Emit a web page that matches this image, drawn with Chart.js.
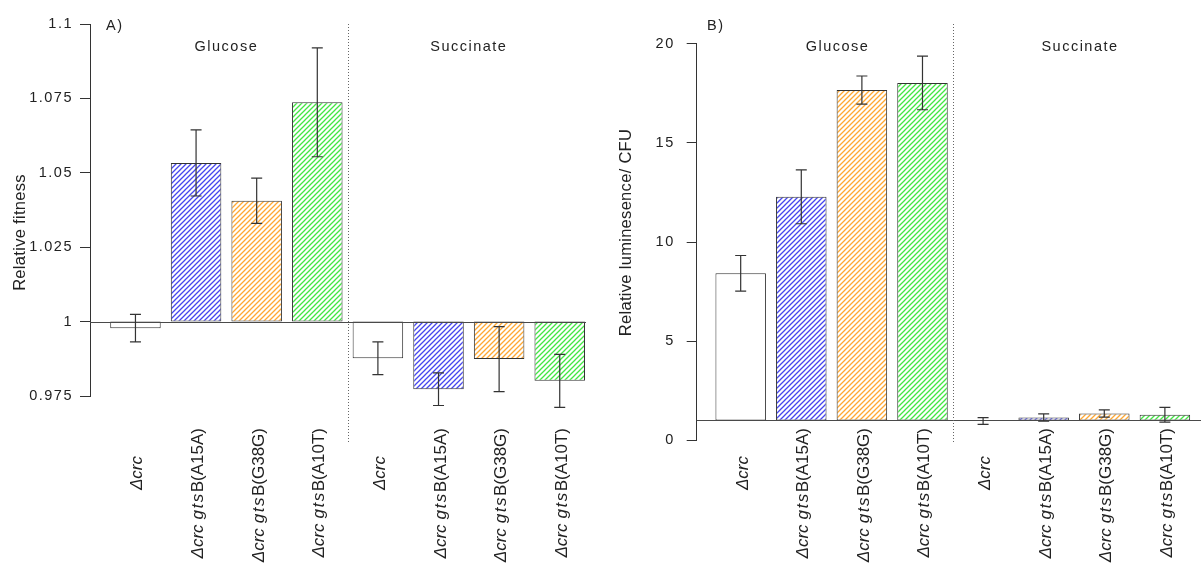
<!DOCTYPE html>
<html>
<head>
<meta charset="utf-8">
<title>Relative fitness and luminescence</title>
<script src="https://cdn.jsdelivr.net/npm/chart.js@4.4.1/dist/chart.umd.min.js"></script>
<style>
  html, body { margin: 0; padding: 0; background: #fff; }
  #wrap { position: relative; width: 1201px; height: 563px; overflow: hidden; }
  #wrap canvas { position: absolute; top: 0; }
</style>
</head>
<body>
<div id="wrap">
  <canvas id="fitness" width="600" height="563" style="left:0px"></canvas>
  <canvas id="lum" width="601" height="563" style="left:600px"></canvas>
</div>
<script>
// ---- data -------------------------------------------------------------
const media = ['Glucose', 'Succinate'];
const strains = ['Δcrc', 'Δcrc gtsB(A15A)', 'Δcrc gtsB(G38G)', 'Δcrc gtsB(A10T)'];

const fitnessGlucose      = [0.9978, 1.0533, 1.0406, 1.0737];
const fitnessGlucoseErr   = [0.0046, 0.0111, 0.0076, 0.0183];
const fitnessSuccinate    = [0.9877, 0.9773, 0.9874, 0.9801];
const fitnessSuccinateErr = [0.0055, 0.0055, 0.0109, 0.0089];
const fitnessTicks        = [0.975, 1, 1.025, 1.05, 1.075, 1.1];

const lumGlucose      = [8.42, 12.28, 17.66, 18.02];
const lumGlucoseErr   = [0.90, 1.36, 0.71, 1.35];
const lumSuccinate    = [0.97, 1.15, 1.35, 1.29];
const lumSuccinateErr = [0.17, 0.18, 0.18, 0.37];
const lumTicks        = [0, 5, 10, 15, 20];

// ---- styling ----------------------------------------------------------
const strainInk = [null, '#4646ee', '#ffa833', '#43e643']; // null = plain white bar
const FONT = 'Liberation Sans';
const INK = '#222';

// barplot-style midpoints: bar width 1, gap 0.2
const slot = k => 0.7 + 1.2 * k;

function hatch(ctx, color) {
  if (!color) return '#ffffff';
  const p = 5;
  const c = document.createElement('canvas');
  c.width = c.height = p;
  const g = c.getContext('2d');
  g.fillStyle = '#fff';
  g.fillRect(0, 0, p, p);
  g.strokeStyle = color;
  g.lineWidth = 1.3;
  g.beginPath();
  g.moveTo(-1, p + 1); g.lineTo(p + 1, -1);
  g.moveTo(-1, 1);     g.lineTo(1, -1);
  g.moveTo(p - 1, p + 1); g.lineTo(p + 1, p - 1);
  g.stroke();
  return ctx.createPattern(c, 'repeat');
}

// strain name -> pieces with gene names in italics
function labelPieces(name) {
  const m = name.match(/^(Δcrc)(?: (gts)(B\(.+\)))?$/);
  const out = [{ text: m[1], italic: true, gapAfter: 5 }];
  if (m[2]) {
    out.push({ text: m[2], italic: true, spacing: 1.5, gapAfter: 0 });
    out.push({ text: m[3], italic: false, gapAfter: 0 });
  }
  return out;
}

function drawStrainLabel(ctx, name, x, yEnd) {
  const pieces = labelPieces(name);
  ctx.save();
  ctx.fillStyle = INK;
  ctx.textBaseline = 'alphabetic';
  ctx.textAlign = 'left';
  let total = 0;
  for (const p of pieces) {
    ctx.font = (p.italic ? 'italic ' : '') + '17px "' + FONT + '"';
    ctx.letterSpacing = (p.spacing || 0) + 'px';
    p.w = ctx.measureText(p.text).width;
    total += p.w + p.gapAfter;
  }
  ctx.translate(x, yEnd);
  ctx.rotate(-Math.PI / 2);
  let pos = -total;
  for (const p of pieces) {
    ctx.font = (p.italic ? 'italic ' : '') + '17px "' + FONT + '"';
    ctx.letterSpacing = (p.spacing || 0) + 'px';
    ctx.fillText(p.text, pos, 0);
    pos += p.w + p.gapAfter;
  }
  ctx.restore();
}

const panelDecor = {
  id: 'panelDecor',
  beforeDraw(chart) {
    chart.ctx.letterSpacing = '1.5px';
  },
  afterDatasetsDraw(chart) {
    const cfg = chart.options.plugins.panelDecor;
    const ctx = chart.ctx;
    const xs = chart.scales.x, ys = chart.scales.y;
    const area = chart.chartArea;
    ctx.save();
    // reference line at the baseline
    const yb = Math.round(ys.getPixelForValue(cfg.base)) + 0.5;
    ctx.strokeStyle = '#4a4a4a';
    ctx.lineWidth = 1;
    ctx.beginPath();
    ctx.moveTo(area.left, yb);
    ctx.lineTo(area.right, yb);
    ctx.stroke();
    // error bars
    ctx.strokeStyle = '#333';
    ctx.lineWidth = 1.2;
    cfg.values.forEach((v, k) => {
      const e = cfg.errors[k];
      const x = xs.getPixelForValue(slot(k));
      const y1 = ys.getPixelForValue(v + e), y2 = ys.getPixelForValue(v - e);
      ctx.beginPath();
      ctx.moveTo(x, y1); ctx.lineTo(x, y2);
      ctx.moveTo(x - 5.5, y1); ctx.lineTo(x + 5.5, y1);
      ctx.moveTo(x - 5.5, y2); ctx.lineTo(x + 5.5, y2);
      ctx.stroke();
    });
    ctx.restore();
  },
  afterDraw(chart) {
    const cfg = chart.options.plugins.panelDecor;
    const ctx = chart.ctx;
    const xs = chart.scales.x;
    const n = strains.length;
    ctx.save();
    // dotted divider between media
    const xd = Math.round(xs.getPixelForValue((slot(n - 1) + slot(n)) / 2)) + 0.5;
    ctx.strokeStyle = '#666';
    ctx.lineWidth = 1;
    ctx.setLineDash([1, 2]);
    ctx.beginPath();
    ctx.moveTo(xd, cfg.dividerTop);
    ctx.lineTo(xd, cfg.dividerBottom);
    ctx.stroke();
    ctx.setLineDash([]);

    // panel letter and medium headings
    ctx.fillStyle = INK;
    ctx.font = '14.5px "' + FONT + '"';
    ctx.letterSpacing = '1.5px';
    ctx.textBaseline = 'alphabetic';
    ctx.textAlign = 'left';
    ctx.fillText(cfg.letter, cfg.letterX, 30);
    ctx.textAlign = 'center';
    media.forEach((m, g) => {
      const mid = (slot(g * n) + slot(g * n + n - 1)) / 2;
      ctx.fillText(m, xs.getPixelForValue(mid) + cfg.headingShift, 51);
    });

    // y-axis title
    ctx.save();
    ctx.font = '16.5px "' + FONT + '"';
    ctx.letterSpacing = '0.3px';
    ctx.translate(cfg.titleX, 232.5);
    ctx.rotate(-Math.PI / 2);
    ctx.textAlign = 'center';
    ctx.fillText(cfg.title, 0, 0);
    ctx.restore();

    // strain labels under each bar
    for (let g = 0; g < media.length; g++) {
      strains.forEach((s, i) => {
        const x = xs.getPixelForValue(slot(g * n + i)) + 7;
        drawStrainLabel(ctx, s, x, s.includes('gts') ? 428 : 451);
      });
    }
    ctx.restore();
    ctx.letterSpacing = '1.5px';
  }
};

function makePanel(id, p) {
  const canvas = document.getElementById(id);
  const ctx = canvas.getContext('2d');
  const values = p.glucose.concat(p.succinate);
  const errors = p.glucoseErr.concat(p.succinateErr);
  const fills = media.flatMap(() => strainInk.map(c => hatch(ctx, c)));
  const ticks = p.ticks;
  return new Chart(ctx, {
    type: 'bar',
    data: {
      datasets: [{
        data: values.map((v, k) => ({ x: slot(k), y: [p.base, v] })),
        backgroundColor: fills,
        borderColor: '#333',
        borderWidth: 1,
        borderSkipped: false,
        barPercentage: 1 / 1.2,
        categoryPercentage: 1
      }]
    },
    options: {
      responsive: false,
      animation: false,
      devicePixelRatio: 1,
      layout: { padding: { left: 0, top: p.top, right: p.padRight, bottom: 563 - p.bottom } },
      plugins: {
        legend: { display: false },
        tooltip: { enabled: false },
        panelDecor: {
          base: p.base, values, errors, letter: p.letter, letterX: p.letterX,
          title: p.title, titleX: p.titleX, headingShift: p.headingShift,
          dividerTop: 24, dividerBottom: 442
        }
      },
      scales: {
        x: {
          type: 'linear', min: p.xMin, max: p.xMax, display: false, offset: false,
          grid: { offset: false },
          afterBuildTicks: s => { s.ticks = values.map((_, k) => ({ value: slot(k) })); }
        },
        y: {
          type: 'linear', min: ticks[0], max: ticks[ticks.length - 1],
          afterBuildTicks: s => { s.ticks = ticks.map(v => ({ value: v })); },
          afterFit: s => { s.width = p.axisX; s.paddingTop = 0; s.paddingBottom = 0; },
          grid: { drawOnChartArea: false, drawTicks: true, tickLength: 10, color: '#333', lineWidth: 1 },
          border: { display: true, color: '#333', width: 1 },
          ticks: {
            padding: p.tickPad, color: INK,
            font: { family: FONT, size: 14.5 },
            callback: v => String(+v.toFixed(3))
          }
        }
      }
    },
    plugins: [panelDecor]
  });
}

makePanel('fitness', {
  glucose: fitnessGlucose, glucoseErr: fitnessGlucoseErr,
  succinate: fitnessSuccinate, succinateErr: fitnessSuccinateErr,
  ticks: fitnessTicks, base: 1,
  title: 'Relative fitness', letter: 'A)',
  axisX: 90, top: 24, bottom: 396, padRight: 14, xMin: -0.2, xMax: 9.62,
  tickPad: 7, letterX: 106, titleX: 25, headingShift: 0
});

makePanel('lum', {
  glucose: lumGlucose, glucoseErr: lumGlucoseErr,
  succinate: lumSuccinate, succinateErr: lumSuccinateErr,
  ticks: lumTicks, base: 1,
  title: 'Relative luminesence/ CFU', letter: 'B)',
  axisX: 96.7, top: 43.7, bottom: 440.3, padRight: 0, xMin: -0.171, xMax: 9.815,
  tickPad: 12, letterX: 107, titleX: 31, headingShift: 6
});
</script>
</body>
</html>
